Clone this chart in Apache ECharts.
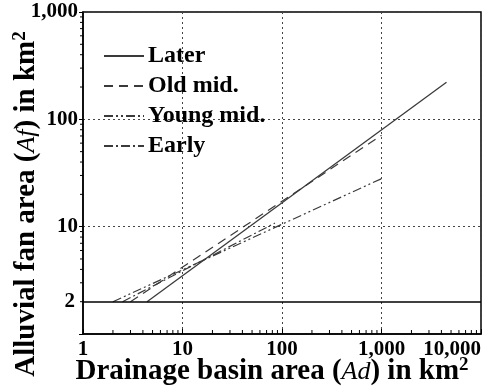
<!DOCTYPE html>
<html><head><meta charset="utf-8">
<script src="https://cdn.jsdelivr.net/npm/echarts@6/dist/echarts.min.js"></script>
<style>html,body{margin:0;padding:0;background:#fff}#c{width:483px;height:392px}</style>
</head><body><div id="c"></div>
<script>
// Series endpoints [drainage basin area Ad, alluvial fan area Af] (km2)
const later    = [[4.4, 2], [4500, 222]];
const oldMid   = [[3.0, 2], [1000, 71]];
const youngMid = [[2.0, 2], [1000, 28]];
const early    = [[2.5, 2], [85, 10.8]];
const seriesNames = ['Later', 'Old mid.', 'Young mid.', 'Early'];
const baseLineValue = 2;
const xTickLabels = {1: '1', 10: '10', 100: '100', 1000: '1,000', 10000: '10,000'};
const yTickLabels = {10: '10', 100: '100', 1000: '1,000'};
const decades = [1, 10, 100, 1000];
const minorMultipliers = [2, 3, 4, 5, 6, 7, 8, 9];

const FONT = "'Liberation Serif','Times New Roman',serif";
const xMinor = [];
decades.forEach(d => minorMultipliers.forEach(m => xMinor.push([d * m])));
const yMinor = [];
[1, 10, 100].forEach(d => minorMultipliers.forEach(m => yMinor.push([d * m])));

const chart = echarts.init(document.getElementById('c'), null, {renderer: 'canvas'});
const lineCol = '#3a3a3a';
function lineSeries(name, data, type, width) {
  return {
    name, type: 'line', data, symbol: 'none', showSymbol: false,
    lineStyle: {color: lineCol, width: width || 1.2, type},
    itemStyle: {color: lineCol}, z: 3, animation: false
  };
}
const s0 = lineSeries('Later', later, 'solid', 1.3);
s0.markLine = {
  silent: true, symbol: 'none', animation: false,
  lineStyle: {color: '#000', width: 1.6, type: 'solid'},
  label: {position: 'start', formatter: '2', color: '#000', fontFamily: FONT, fontWeight: 'bold', fontSize: 21, distance: 8},
  data: [{yAxis: baseLineValue}]
};
const nameRich = {
  b: {fontFamily: FONT, fontWeight: 'bold', fontSize: 29, color: '#000', lineHeight: 32},
  i: {fontFamily: FONT, fontStyle: 'italic', fontSize: 26, color: '#000', lineHeight: 32},
  s: {fontFamily: FONT, fontWeight: 'bold', fontSize: 19, color: '#000', verticalAlign: 'top', lineHeight: 24}
};
const option = {
  animation: false,
  grid: {left: 83, right: 2, top: 12, bottom: 58, show: true, borderColor: '#000', borderWidth: 1.5,
         backgroundColor: 'transparent', containLabel: false, outerBoundsMode: 'none'},
  legend: {
    data: seriesNames, orient: 'vertical', left: 98, top: 39, itemWidth: 40, itemHeight: 12, itemGap: 6,
    itemStyle: {opacity: 0},
    textStyle: {fontFamily: FONT, fontWeight: 'bold', fontSize: 24, lineHeight: 24, color: '#000', padding: [0, 0, 0, -1]}
  },
  xAxis: {
    type: 'log', min: 1, max: 10000, logBase: 10,
    name: '{b|Drainage basin area (}{i|Ad}{b|) in km}{s|2}',
    nameLocation: 'middle', nameGap: 22, nameMoveOverlap: false,
    nameTextStyle: {rich: nameRich, padding: [0, 20, 0, 0]},
    axisLine: {show: true, lineStyle: {color: '#000', width: 1.5}},
    axisTick: {show: true, inside: true, length: 5, lineStyle: {color: '#000'}},
    minorTick: {show: false},
    axisLabel: {
      margin: 5, color: '#000', fontFamily: FONT, fontWeight: 'bold', fontSize: 21,
      formatter: v => xTickLabels[Math.round(v)] || '',
      alignMaxLabel: 'right'
    },
    splitLine: {show: true, lineStyle: {color: '#444', type: [2, 3], width: 1}}
  },
  yAxis: {
    type: 'log', min: 1, max: 1000, logBase: 10,
    name: '{b|Alluvial fan area (}{i|Af}{b|) in km}{s|2}',
    nameLocation: 'middle', nameRotate: 90, nameGap: 40, nameMoveOverlap: false,
    nameTextStyle: {rich: nameRich, padding: [0, 62, 0, 0]},
    axisLine: {show: true, lineStyle: {color: '#000', width: 1.5}},
    axisTick: {show: true, inside: false, length: 4, lineStyle: {color: '#000'}},
    axisLabel: {
      margin: 5, color: '#000', fontFamily: FONT, fontWeight: 'bold', fontSize: 21,
      formatter: v => yTickLabels[Math.round(v)] || ''
    },
    splitLine: {show: true, lineStyle: {color: '#444', type: [2, 3], width: 1}}
  },
  series: [
    s0,
    lineSeries('Old mid.', oldMid, [9, 6]),
    lineSeries('Young mid.', youngMid, [9, 3, 2, 3, 2, 3]),
    lineSeries('Early', early, [9, 3, 2, 3]),
    {
      type: 'custom', data: xMinor, silent: true, clip: false, animation: false, z: 4,
      encode: {x: 0},
      renderItem: (p, api) => {
        const pt = api.coord([api.value(0), 1]);
        return {type: 'line', shape: {x1: pt[0], y1: pt[1], x2: pt[0], y2: pt[1] - 4}, style: {stroke: '#000', lineWidth: 1}};
      }
    },
    {
      type: 'custom', data: yMinor, silent: true, clip: false, animation: false, z: 4,
      encode: {y: 0},
      renderItem: (p, api) => {
        const pt = api.coord([1, api.value(0)]);
        return {type: 'line', shape: {x1: pt[0], y1: pt[1], x2: pt[0] - 3, y2: pt[1]}, style: {stroke: '#000', lineWidth: 1}};
      }
    }
  ]
};
chart.setOption(option);
</script></body></html>
